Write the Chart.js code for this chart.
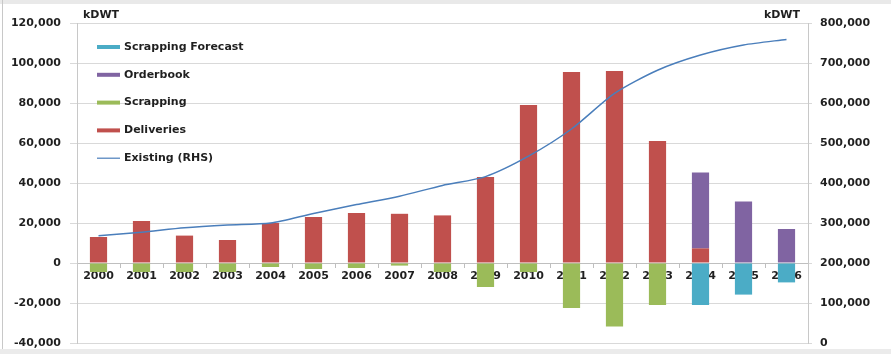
<!DOCTYPE html>
<html>
<head>
<meta charset="utf-8">
<script src="https://cdn.jsdelivr.net/npm/chart.js@4/dist/chart.umd.min.js"></script>
<style>
  html, body { margin: 0; padding: 0; background: #fff; }
  #wrap { position: relative; width: 891px; height: 354px; overflow: hidden; }
  #topBand { position: absolute; left: 0; top: 0; width: 891px; height: 4px; background: #e9e9e9; }
  #bottomBand { position: absolute; left: 0; top: 349px; width: 891px; height: 5px; background: #ebebeb; }
  #leftEdge { position: absolute; left: 2px; top: 0; width: 1px; height: 349px; background: #c8c8c8; }
</style>
</head>
<body>
<div id="wrap">
  <canvas id="fleetChart" width="891" height="354"></canvas>
  <div id="topBand"></div>
  <div id="bottomBand"></div>
  <div id="leftEdge"></div>
</div>
<script>
// Years on the x axis
const years = ["2000", "2001", "2002", "2003", "2004", "2005", "2006", "2007", "2008",
               "2009", "2010", "2011", "2012", "2013", "2014", "2015", "2016"];

// kDWT, left axis
const deliveries = [13000, 21000, 13700, 11500, 20000, 23000, 25000, 24600, 23800,
                    43000, 79000, 95500, 96000, 61000, 7300, null, null];
const scrapping = [-4500, -4500, -4500, -4500, -2000, -3000, -2500, -1300, -4500,
                   -12000, -4500, -22500, -31800, -21000, null, null, null];
const orderbook = [null, null, null, null, null, null, null, null, null,
                   null, null, null, null, null, 38000, 30700, 17000];
const scrappingForecast = [null, null, null, null, null, null, null, null, null,
                           null, null, null, null, null, -21000, -15800, -9700];

// kDWT, right axis
const existing = [268000, 277000, 288000, 295000, 300000, 324000, 346000, 367000, 394000,
                  416000, 467000, 535000, 624000, 682000, 720000, 745000, 759000];

const leftTicks = { min: -40000, max: 120000, step: 20000 };
const rightTicks = { min: 0, max: 800000, step: 100000 };

const FONT = "'DejaVu Sans', Verdana, sans-serif";
const fmt = v => Number(v).toLocaleString("en-US");

// legend drawn inside the plot, plus the two kDWT unit labels
const extrasPlugin = {
    id: "extras",
    afterDatasetsDraw(chart) {
        const ctx = chart.ctx;
        const area = chart.chartArea;
        ctx.save();
        ctx.font = "bold 11px " + FONT;
        ctx.fillStyle = "#1f1f1f";
        ctx.textBaseline = "middle";
        ctx.textAlign = "left";
        ctx.fillText("kDWT", area.left + 6, 15);
        ctx.textAlign = "right";
        ctx.fillText("kDWT", area.right - 8, 15);

        const items = chart.data.datasets.slice().reverse();
        let y = 47;
        ctx.textAlign = "left";
        items.forEach(ds => {
            if (ds.type === "line") {
                ctx.strokeStyle = ds.borderColor;
                ctx.lineWidth = 1.2;
                ctx.beginPath();
                ctx.moveTo(97, y);
                ctx.lineTo(120, y);
                ctx.stroke();
            } else {
                ctx.fillStyle = ds.backgroundColor;
                ctx.fillRect(97, y - 2, 23, 4);
            }
            ctx.fillStyle = "#1f1f1f";
            ctx.fillText(ds.label, 124, y);
            y += 27.8;
        });
        ctx.restore();
    }
};

// fixed axis widths; drop the vertical overhang that tick padding adds
function fixWidth(w) {
    return scale => {
        scale.width = w;
        scale.paddingTop = 4;
        scale.paddingBottom = 4;
    };
}

const ctx = document.getElementById("fleetChart").getContext("2d");
const chart = new Chart(ctx, {
    data: {
        labels: years,
        datasets: [
            {
                type: "line",
                label: "Existing (RHS)",
                data: existing,
                yAxisID: "y1",
                borderColor: "#4a7ebb",
                borderWidth: 1.5,
                pointRadius: 0,
                tension: 0.25
            },
            {
                type: "bar",
                label: "Deliveries",
                data: deliveries,
                backgroundColor: "#c0504d",
                stack: "s"
            },
            {
                type: "bar",
                label: "Scrapping",
                data: scrapping,
                backgroundColor: "#9bbb59",
                stack: "s"
            },
            {
                type: "bar",
                label: "Orderbook",
                data: orderbook,
                backgroundColor: "#8064a2",
                stack: "s"
            },
            {
                type: "bar",
                label: "Scrapping Forecast",
                data: scrappingForecast,
                backgroundColor: "#4bacc6",
                stack: "s"
            }
        ]
    },
    options: {
        responsive: false,
        animation: false,
        devicePixelRatio: 1,
        layout: { padding: { top: 23, bottom: 11, left: 0, right: 0 } },
        datasets: {
            bar: { barPercentage: 0.4, categoryPercentage: 1.0 }
        },
        plugins: {
            legend: { display: false },
            tooltip: { enabled: false }
        },
        scales: {
            x: {
                stacked: true,
                position: { y: 0 },
                afterFit(scale) { scale.height = 0; },
                grid: {
                    offset: true,
                    drawOnChartArea: false,
                    drawTicks: true,
                    tickLength: 4,
                    color: "#bfbfbf"
                },
                border: { color: "#bfbfbf" },
                ticks: {
                    color: "#1f1f1f",
                    font: { family: FONT, size: 11, weight: "bold" },
                    padding: 3,
                    maxRotation: 0,
                    autoSkip: false
                }
            },
            y: {
                stacked: true,
                position: "left",
                min: leftTicks.min,
                max: leftTicks.max,
                afterFit: fixWidth(77),
                grid: { color: "#d9d9d9", tickLength: 7 },
                border: { color: "#c8c8c8" },
                ticks: {
                    stepSize: leftTicks.step,
                    color: "#1f1f1f",
                    padding: 9,
                    font: { family: FONT, size: 11, weight: "bold" },
                    callback: v => fmt(v)
                }
            },
            y1: {
                position: "right",
                min: rightTicks.min,
                max: rightTicks.max,
                afterFit: fixWidth(83),
                grid: { drawOnChartArea: false, tickLength: 4, color: "#d9d9d9" },
                border: { color: "#c8c8c8" },
                ticks: {
                    stepSize: rightTicks.step,
                    color: "#1f1f1f",
                    padding: 8,
                    font: { family: FONT, size: 11, weight: "bold" },
                    callback: v => fmt(v)
                }
            }
        }
    },
    plugins: [extrasPlugin]
});
</script>
</body>
</html>
